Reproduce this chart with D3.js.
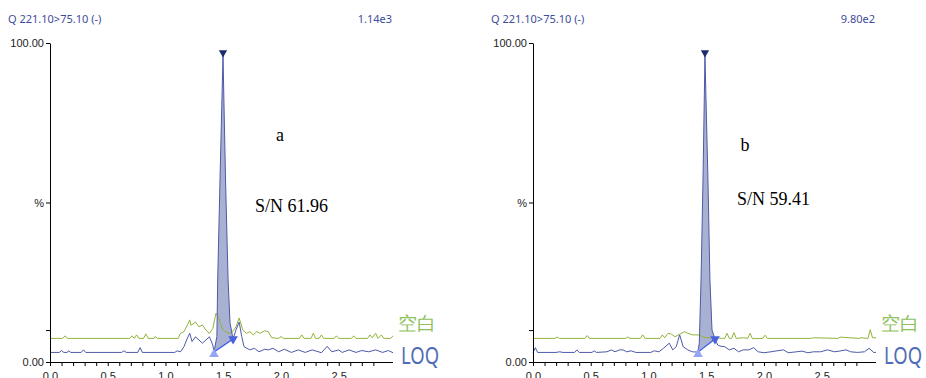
<!DOCTYPE html>
<html>
<head>
<meta charset="utf-8">
<script src="https://cdn.jsdelivr.net/npm/d3@7"></script>
<style>
  body { margin: 0; background: #fff; }
  svg { display: block; font-family: "Noto Sans", "Open Sans", sans-serif; }
</style>
</head>
<body>
<svg id="chart" width="926" height="378"></svg>
<script>
// chromatogram traces, [time (min), intensity (%)]
const loqA = [
  [0.00, 3.0], [0.08, 3.0], [0.10, 3.6], [0.12, 3.0], [0.15, 3.0], [0.16, 3.5], [0.18, 3.0],
  [0.27, 3.0], [0.29, 3.8], [0.31, 3.0], [0.62, 3.0], [0.64, 3.5], [0.66, 3.0], [0.76, 3.0],
  [0.78, 4.5], [0.80, 3.0], [1.08, 3.0], [1.10, 3.5], [1.13, 3.2], [1.16, 4.8], [1.19, 7.5],
  [1.21, 9.0], [1.23, 6.4], [1.26, 7.9], [1.29, 6.9], [1.32, 5.9], [1.35, 6.9], [1.38, 7.9],
  [1.41, 5.3], [1.420, 3.1], [1.445, 8.0], [1.452, 25.7], [1.472, 57], [1.498, 96],
  [1.520, 57], [1.542, 25.7], [1.559, 12.2], [1.585, 7.2], [1.61, 10.0], [1.638, 12.5],
  [1.66, 8.0], [1.68, 4.8], [1.73, 3.8], [1.77, 4.3], [1.81, 3.2], [1.86, 4.0], [1.89, 3.8],
  [1.93, 4.3], [1.98, 3.2], [2.03, 4.0], [2.09, 3.0], [2.15, 3.8], [2.21, 3.0], [2.27, 3.8],
  [2.35, 2.9], [2.40, 4.9], [2.44, 3.2], [2.50, 3.8], [2.53, 3.0], [2.59, 3.8], [2.65, 3.0],
  [2.70, 3.6], [2.76, 3.2], [2.82, 3.8], [2.88, 3.0], [2.93, 3.6], [2.97, 2.9]
];
const blankA = [
  [0.00, 7.4], [0.11, 7.4], [0.13, 8.2], [0.15, 7.4], [0.69, 7.4], [0.71, 8.2], [0.73, 7.4],
  [0.75, 8.5], [0.77, 7.4], [0.81, 7.4], [0.83, 8.8], [0.85, 7.4], [0.90, 7.4], [0.91, 8.0],
  [0.93, 7.4], [1.11, 7.4], [1.13, 9.0], [1.16, 9.5], [1.19, 11.6], [1.21, 13.2], [1.22, 11.5],
  [1.26, 12.5], [1.29, 11.0], [1.32, 11.6], [1.35, 10.0], [1.38, 9.0], [1.41, 10.5], [1.437, 15.3],
  [1.46, 14.0], [1.49, 10.5], [1.52, 9.5], [1.55, 9.0], [1.58, 9.5], [1.61, 11.0], [1.638, 13.8],
  [1.67, 10.0], [1.70, 9.0], [1.73, 9.5], [1.76, 8.5], [1.79, 9.5], [1.82, 9.0], [1.86, 9.8],
  [1.89, 9.5], [1.92, 7.6], [1.98, 7.4], [2.00, 8.0], [2.02, 7.4], [2.16, 7.4], [2.18, 8.5],
  [2.20, 7.4], [2.26, 7.4], [2.28, 9.0], [2.30, 7.4], [2.33, 7.4], [2.35, 8.5], [2.37, 7.4],
  [2.46, 7.4], [2.48, 8.2], [2.50, 7.4], [2.61, 7.4], [2.63, 8.2], [2.65, 7.4], [2.75, 7.4],
  [2.77, 8.5], [2.79, 7.6], [2.82, 9.0], [2.84, 7.4], [2.87, 8.5], [2.89, 7.4], [2.95, 7.4], [2.97, 8.2]
];
const loqB = [
  [0.00, 2.9], [0.02, 4.5], [0.04, 3.0], [0.20, 3.0], [0.23, 3.2], [0.26, 3.0], [0.36, 3.0],
  [0.38, 3.8], [0.40, 3.0], [0.51, 3.0], [0.53, 3.5], [0.55, 3.0], [0.64, 3.2], [0.68, 3.8],
  [0.71, 3.2], [0.75, 3.8], [0.78, 3.8], [0.81, 3.2], [0.85, 3.5], [0.89, 3.0], [1.02, 3.0],
  [1.05, 3.5], [1.09, 3.2], [1.13, 4.3], [1.18, 5.9], [1.21, 3.8], [1.24, 4.8], [1.27, 8.5],
  [1.30, 4.8], [1.34, 3.8], [1.38, 3.2], [1.429, 3.1], [1.440, 6.0], [1.455, 25.7], [1.472, 57],
  [1.489, 96], [1.515, 57], [1.532, 25.7], [1.550, 10.0], [1.576, 7.2], [1.60, 5.3], [1.62, 5.0],
  [1.66, 4.8], [1.70, 3.8], [1.74, 4.3], [1.78, 3.2], [1.82, 3.8], [1.87, 3.8], [1.91, 4.5],
  [1.95, 3.2], [2.00, 2.9], [2.06, 3.2], [2.13, 3.6], [2.17, 3.8], [2.21, 2.9], [2.33, 3.4],
  [2.38, 2.9], [2.43, 3.2], [2.49, 3.2], [2.55, 3.8], [2.61, 3.2], [2.65, 3.4], [2.71, 3.8],
  [2.75, 3.2], [2.81, 3.0], [2.87, 3.2], [2.91, 4.3], [2.95, 3.0], [2.97, 3.0]
];
const blankB = [
  [0.00, 7.4], [0.19, 7.4], [0.21, 7.8], [0.23, 7.4], [0.45, 7.4], [0.47, 8.3], [0.49, 7.4],
  [0.80, 7.4], [0.82, 7.8], [0.84, 7.4], [0.93, 7.4], [0.95, 8.5], [0.97, 7.4], [1.10, 7.4],
  [1.12, 8.5], [1.14, 7.6], [1.17, 9.0], [1.20, 8.7], [1.23, 7.9], [1.26, 8.5], [1.31, 9.5],
  [1.34, 9.0], [1.38, 8.5], [1.43, 8.5], [1.50, 7.6], [1.60, 7.6], [1.64, 7.4], [1.66, 7.4],
  [1.68, 9.0], [1.70, 7.4], [1.72, 7.4], [1.74, 9.2], [1.76, 7.4], [1.82, 7.6], [1.86, 7.4],
  [1.88, 9.0], [1.90, 7.3], [1.99, 7.4], [2.01, 8.4], [2.03, 7.4], [2.41, 7.4], [2.43, 7.6],
  [2.64, 7.4], [2.66, 7.8], [2.82, 7.4], [2.84, 7.6], [2.90, 7.4], [2.92, 10.1], [2.94, 7.6], [2.97, 7.6]
];

// peak integration window (start, end), min
const integA = [1.420, 1.585];
const integB = [1.429, 1.576];

const xTicks = d3.range(0, 29).map(i => i / 10);
const xLabels = [0, 0.5, 1.0, 1.5, 2.0, 2.5];
const yTicks = [0, 10, 50, 100];

const panels = [
  { left: 50, header: "Q 221.10>75.10 (-)", scaleText: "1.14e3", loq: loqA, blank: blankA, integ: integA,
    tag: "a", tagPos: [280, 141], sn: "S/N 61.96", snPos: [255, 212] },
  { left: 533, header: "Q 221.10>75.10 (-)", scaleText: "9.80e2", loq: loqB, blank: blankB, integ: integB,
    tag: "b", tagPos: [745, 151], sn: "S/N 59.41", snPos: [737, 205] }
];

const svg = d3.select("#chart");
const plotW = 343;
const blue = "#4d5aa8", green = "#93b33a";

panels.forEach(p => {
  const x = d3.scaleLinear().domain([0, 2.97]).range([p.left, p.left + plotW]);
  const y = d3.scaleLinear().domain([0, 100]).range([362, 43]);
  const g = svg.append("g");

  // header
  g.append("text").attr("x", p.left - 42).attr("y", 23)
    .attr("font-size", 11).attr("fill", "#3d4c9c").text(p.header);
  g.append("text").attr("x", p.left + plotW - 1).attr("y", 23).attr("text-anchor", "end")
    .attr("font-size", 11).attr("fill", "#3d4c9c").text(p.scaleText);

  // peak fill between curve and integration baseline
  const [t0, t1] = p.integ;
  const inPeak = p.loq.filter(d => d[0] >= t0 && d[0] <= t1);
  const v0 = inPeak[0][1], v1 = inPeak[inPeak.length - 1][1];
  const base = d3.scaleLinear().domain([t0, t1]).range([v0, v1]);
  g.append("path").datum(inPeak)
    .attr("d", d3.area().x(d => x(d[0])).y0(d => y(base(d[0]))).y1(d => y(d[1])))
    .attr("fill", "#a9b1d3").attr("stroke", "none");

  const line = d3.line().x(d => x(d[0])).y(d => y(d[1]));
  g.append("path").datum(p.blank).attr("d", line)
    .attr("fill", "none").attr("stroke", green).attr("stroke-width", 1);
  g.append("path").datum(p.loq).attr("d", line)
    .attr("fill", "none").attr("stroke", blue).attr("stroke-width", 1);

  // integration baseline and markers
  g.append("line")
    .attr("x1", x(t0)).attr("y1", y(v0)).attr("x2", x(t1)).attr("y2", y(v1))
    .attr("stroke", "#3355ee").attr("stroke-width", 1.2);
  const tri = d3.symbol().type(d3.symbolTriangle).size(40);
  g.append("path").attr("d", tri())
    .attr("transform", `translate(${x(t0)},${y(v0) + 2})`).attr("fill", "#96a6f2");
  g.append("path").attr("d", tri())
    .attr("transform", `translate(${x(t1)},${y(v1)}) rotate(180)`).attr("fill", "#4a62dc");
  const apex = d3.greatest(p.loq, d => d[1]);
  g.append("path").attr("d", d3.symbol().type(d3.symbolTriangle).size(30)())
    .attr("transform", `translate(${x(apex[0])},${y(apex[1]) - 3}) rotate(180)`).attr("fill", "#1c2d6a");

  // axes
  const xAxis = d3.axisBottom(x).tickValues(xTicks).tickSize(4).tickSizeOuter(0).tickPadding(6)
    .tickFormat(d => xLabels.some(v => Math.abs(v - d) < 1e-6) ? d.toFixed(1) : "");
  g.append("g").attr("transform", "translate(0,362)").call(xAxis)
    .call(a => a.selectAll("text").attr("font-size", 11).attr("font-family", null).attr("fill", "#222"))
    .call(a => a.select(".domain").attr("d", `M${p.left},0.5H${p.left + plotW}`));

  const yAxis = d3.axisLeft(y).tickValues(yTicks).tickSize(4).tickSizeOuter(0).tickPadding(2)
    .tickFormat(d => d === 100 ? "100.00" : d === 50 ? "%" : d === 0 ? "0.00" : "");
  g.append("g").attr("transform", `translate(${p.left},0)`).call(yAxis)
    .call(a => a.selectAll("text").attr("font-size", 11).attr("font-family", null).attr("fill", "#222"));

  // legend labels
  g.append("text").attr("x", p.left + plotW + 5).attr("y", 330)
    .attr("font-size", 19).attr("fill", "#8dc15d").text("空白");
  g.append("text").attr("x", p.left + plotW + 8).attr("y", 364)
    .attr("font-size", 23).attr("fill", "#4f6db6")
    .attr("textLength", 38).attr("lengthAdjust", "spacingAndGlyphs").text("LOQ");

  // annotations
  g.append("text").attr("x", p.tagPos[0]).attr("y", p.tagPos[1]).attr("text-anchor", "middle")
    .attr("font-family", "'Liberation Serif', 'Times New Roman', serif").attr("font-size", 18).text(p.tag);
  g.append("text").attr("x", p.snPos[0]).attr("y", p.snPos[1])
    .attr("font-family", "'Liberation Serif', 'Times New Roman', serif").attr("font-size", 18).text(p.sn);
});
</script>
</body>
</html>
